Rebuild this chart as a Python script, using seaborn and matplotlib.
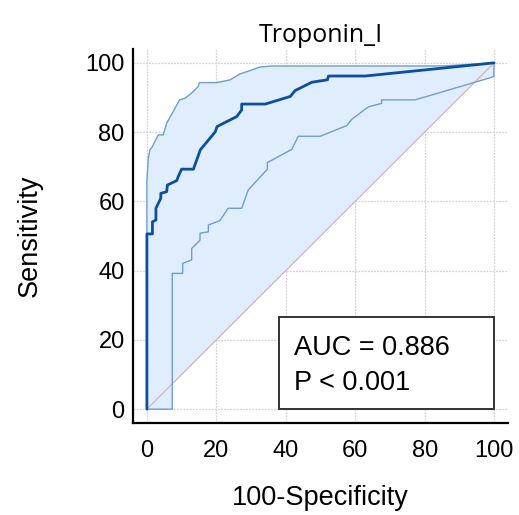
import numpy as np
import pandas as pd
import matplotlib
matplotlib.use("Agg")
import matplotlib.pyplot as plt
from matplotlib.ticker import MultipleLocator
from matplotlib.patches import Rectangle
import seaborn as sns

# ROC curve (100-Specificity, Sensitivity)
roc_x = [0, 0, 1.6, 1.6, 2.6, 2.6, 4.0, 4.0, 5.7, 5.9, 8.6, 9.0, 10.0, 13.4, 15.4,
         19.7, 20.2, 25.9, 27.3, 27.3, 34.1, 41.3, 42.7, 47.5, 52.0, 52.3, 62.9, 100]
roc_y = [0, 50.6, 50.6, 54.1, 54.6, 58.0, 60.9, 62.3, 62.8, 64.7, 66.0, 67.1, 69.3, 69.3, 74.9,
         80.1, 81.6, 84.5, 86.4, 88.1, 88.1, 90.3, 92.0, 94.4, 95.1, 96.2, 96.2, 100]

# Upper confidence bound
upper_x = [0, 0, 0.2, 0.4, 0.9, 1.4, 2.3, 3.3, 4.7, 5.7, 7.6, 9.4, 11.0, 12.8, 14.8, 15.1,
           20.1, 24.0, 26.8, 29.8, 32.6, 36.0, 85.4, 100]
upper_y = [0, 66, 69, 72.5, 75, 75.5, 77.3, 79.2, 79.2, 82.6, 86.0, 89.3, 89.8, 91.2, 93.2, 94.3,
           94.3, 95.1, 96.8, 97.8, 98.8, 99.1, 99.1, 100]

# Lower confidence bound
lower_x = [0, 7.3, 7.3, 10.3, 10.3, 12.9, 12.9, 15.3, 15.3, 17.7, 17.7, 21.0, 23.4, 27.3,
           29.2, 34.7, 34.7, 41.7, 43.6, 49.9, 57.6, 59.0, 63.8, 67.6, 67.6, 77.2, 99.9, 100]
lower_y = [0, 0, 39.2, 39.2, 42.1, 43.1, 46.4, 48.8, 50.8, 51.2, 53.2, 54.4, 58.0, 58.0,
           63.3, 69.3, 71.2, 75.0, 78.8, 78.8, 81.9, 83.7, 87.3, 88.3, 89.3, 89.3, 96.0, 100]

ref_x = [0, 100]
ref_y = [0, 100]

title = "Troponin_I"
xlabel = "100-Specificity"
ylabel = "Sensitivity"
auc_text = "AUC = 0.886"
p_text = "P < 0.001"
ticks = [0, 20, 40, 60, 80, 100]

sns.set_style("white")
plt.rcParams['font.family'] = ['Liberation Sans', 'DejaVu Sans']
plt.rcParams['text.color'] = 'black'
plt.rcParams['axes.labelcolor'] = 'black'
plt.rcParams['xtick.color'] = 'black'
plt.rcParams['ytick.color'] = 'black'

fig = plt.figure(figsize=(5.19, 5.15), dpi=100)
ax = fig.add_axes([133 / 519, 1 - 423 / 515, 375 / 519, 374 / 515])

fill_col = "#e0edfc"
# confidence band fill (upper to lower) and the area between lower bound and diagonal
band_x = np.concatenate([upper_x, lower_x[::-1]])
band_y = np.concatenate([upper_y, lower_y[::-1]])
ax.fill(band_x, band_y, color=fill_col, lw=0, zorder=1)
tri_x = np.concatenate([lower_x, ref_x[::-1]])
tri_y = np.concatenate([lower_y, ref_y[::-1]])
ax.fill(tri_x, tri_y, color=fill_col, lw=0, zorder=1)

# reference diagonal
sns.lineplot(x=ref_x, y=ref_y, ax=ax, color="#d8aaaa", lw=0.8, sort=False,
             estimator=None, zorder=2)

up_df = pd.DataFrame({"x": upper_x, "y": upper_y})
lo_df = pd.DataFrame({"x": lower_x, "y": lower_y})
roc_df = pd.DataFrame({"x": roc_x, "y": roc_y})
sns.lineplot(data=up_df, x="x", y="y", ax=ax, color="#6f9dd4", lw=1.0, sort=False,
             estimator=None, zorder=3)
sns.lineplot(data=lo_df, x="x", y="y", ax=ax, color="#6f9dd4", lw=1.0, sort=False,
             estimator=None, zorder=3)
sns.lineplot(data=roc_df, x="x", y="y", ax=ax, color="#0c4fa0", lw=2.0, sort=False,
             estimator=None, zorder=4)

ax.set_xlim(-4, 104)
ax.set_ylim(-4, 104)
ax.set_xticks(ticks)
ax.set_yticks(ticks)
ax.xaxis.set_minor_locator(MultipleLocator(5))
ax.yaxis.set_minor_locator(MultipleLocator(5))
ax.grid(True, which="major", color="#d2d2d2", linestyle=(0, (1.5, 1)), lw=0.9, zorder=0)
ax.set_axisbelow(True)

for s in ["top", "right"]:
    ax.spines[s].set_visible(False)
for s in ["left", "bottom"]:
    ax.spines[s].set_color("black")
    ax.spines[s].set_linewidth(1.6)

ax.tick_params(which="major", direction="in", length=8.5, width=1.2, color="black",
               labelsize=17)
ax.tick_params(which="minor", direction="in", length=4, width=1.0, color="black")
ax.tick_params(axis="x", which="major", pad=12)
ax.tick_params(axis="y", which="major", pad=6)

ax.set_xlabel(xlabel, fontsize=19.5)
ax.set_ylabel(ylabel, fontsize=19.5)
ax.xaxis.set_label_coords(0.5, -0.166)
ax.yaxis.set_label_coords(-0.24, 0.5)
ax.set_title(title, fontsize=18, family=["Open Sans", "DejaVu Sans"], pad=5)

# AUC box
ax.add_patch(Rectangle((38, 0), 62, 26.6, facecolor="white", edgecolor="#333333",
                       lw=1.4, zorder=5))
ax.text(42.5, 17.8, auc_text, fontsize=19.5, va="center", ha="left", zorder=6)
ax.text(42.5, 7.5, p_text, fontsize=19.5, va="center", ha="left", zorder=6)

fig.savefig("out.png", dpi=100)
